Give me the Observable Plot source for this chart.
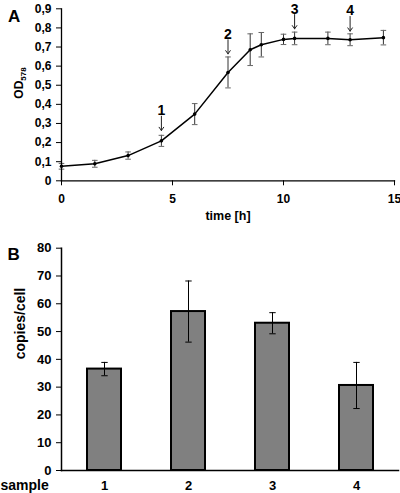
<!DOCTYPE html>
<html><head><meta charset="utf-8">
<script src="https://cdn.jsdelivr.net/npm/d3@7"></script>
<script src="https://cdn.jsdelivr.net/npm/@observablehq/plot@0.6"></script>
<style>
body{margin:0;background:#fff;}
#wrap{position:relative;width:400px;height:493px;}
#a,#b{position:absolute;left:0;}
#a{top:0}#b{top:228px}
</style></head><body>
<div id="wrap"><div id="a"></div><div id="b"></div></div>
<script>
// Panel A: growth curve
const timeH = [0, 1.5, 3, 4.5, 6, 7.5, 8.5, 9, 10, 10.5, 12, 13, 14.5];
const od = [0.076, 0.089, 0.132, 0.209, 0.349, 0.567, 0.686, 0.712, 0.740, 0.745, 0.745, 0.738, 0.749];
const odErr = [0.015, 0.018, 0.019, 0.029, 0.055, 0.081, 0.083, 0.064, 0.027, 0.033, 0.033, 0.031, 0.038];
const xTicksA = [0, 5, 10, 15];
const yTicksA = [0, 0.1, 0.2, 0.3, 0.4, 0.5, 0.6, 0.7, 0.8, 0.9];
// sampling arrows
const sampleLabels = ["1", "2", "3", "4"];
const sampleTimes = [4.5, 7.5, 10.5, 13];
const arrowTop = [0.338, 0.738, 0.870, 0.860];
const arrowBottom = [0.263, 0.664, 0.795, 0.783];

// Panel B: copies per cell
const samples = ["1", "2", "3", "4"];
const copies = [36.5, 57.2, 53.0, 30.6];
const copiesErr = [2.4, 11.0, 3.8, 8.3];
const yTicksB = [0, 10, 20, 30, 40, 50, 60, 70, 80];

const font = "'Liberation Sans', Arial, sans-serif";
const fmt = d => d === 0 ? "0" : d.toFixed(1).replace(".", ",");
// horizontal-line symbol for error-bar caps (half width = r)
const capSymbol = {draw(ctx, size) { const w = Math.sqrt(size / Math.PI); ctx.moveTo(-w, 0); ctx.lineTo(w, 0); }};

const growth = timeH.map((t, i) => ({t, od: od[i], err: odErr[i]}));
const arrows = sampleTimes.map((t, i) => ({t, label: sampleLabels[i], top: arrowTop[i], bottom: arrowBottom[i]}));

const chartA = Plot.plot({
  width: 400, height: 228,
  marginTop: 8.3, marginBottom: 47.7, marginLeft: 61, marginRight: 6,
  style: {fontFamily: font, fontSize: "12px", fontWeight: "bold", color: "black", background: "white", overflow: "visible"},
  x: {domain: [0, 15]},
  y: {domain: [0, 0.9]},
  marks: [
    Plot.ruleX(growth, {x: "t", y1: d => d.od - d.err, y2: d => d.od + d.err, stroke: "#333", strokeWidth: 1}),
    Plot.dot(growth, {x: "t", y: d => d.od + d.err, symbol: capSymbol, r: 2.8, stroke: "#666", fill: "none", strokeWidth: 1}),
    Plot.dot(growth, {x: "t", y: d => d.od - d.err, symbol: capSymbol, r: 2.8, stroke: "#666", fill: "none", strokeWidth: 1}),
    Plot.line(growth, {x: "t", y: "od", stroke: "black", strokeWidth: 1.5}),
    Plot.dot(growth, {x: "t", y: "od", r: 1.8, fill: "black"}),
    Plot.arrow(arrows, {x1: "t", x2: "t", y1: "top", y2: "bottom", headLength: 6, headAngle: 70, stroke: "#222", strokeWidth: 1}),
    Plot.text(arrows, {x: "t", y: "top", text: "label", lineAnchor: "bottom", dy: -1, fontSize: 14, fontWeight: "bold"}),
    Plot.axisX({ticks: xTicksA, tickSize: 5, tickPadding: 9, tickFormat: d => String(d), label: null, fontSize: 12, fontWeight: "bold"}),
    Plot.axisY({ticks: yTicksA, tickSize: 5, tickPadding: 5, tickFormat: fmt, label: null, fontSize: 12, fontWeight: "bold"}),
    Plot.frame({anchor: "bottom", strokeWidth: 1.3}),
    Plot.frame({anchor: "left", strokeWidth: 1.3}),
    Plot.text(["time [h]"], {frameAnchor: "bottom", dy: 30, lineAnchor: "top", text: d => d, fontSize: 12.5, fontWeight: "bold"}),
    Plot.text(["A"], {frameAnchor: "top-left", dx: -53.5, dy: 1.5, text: d => d, fontSize: 17, fontWeight: "bold"})
  ]
});
{
  const t = d3.select(chartA).append("text")
    .attr("transform", "translate(19,83) rotate(-90)")
    .attr("text-anchor", "middle")
    .attr("dy", "0.35em")
    .attr("font-size", 12)
    .attr("font-weight", "bold")
    .attr("fill", "black");
  t.append("tspan").text("OD");
  t.append("tspan").attr("font-size", 8).attr("dy", "0.35em").text("578");
}
document.getElementById("a").append(chartA);

const bars = samples.map((s, i) => ({s, v: copies[i], e: copiesErr[i]}));
const chartB = Plot.plot({
  width: 400, height: 265,
  marginTop: 19.7, marginBottom: 23, marginLeft: 61, marginRight: 2,
  style: {fontFamily: font, fontSize: "13px", fontWeight: "bold", color: "black", background: "white", overflow: "visible"},
  x: {domain: samples, paddingInner: 0.6, paddingOuter: 0.3},
  y: {domain: [0, 80]},
  marks: [
    Plot.barY(bars, {x: "s", y: "v", fill: "#808080", stroke: "black", strokeWidth: 2}),
    Plot.ruleX(bars, {x: "s", y1: d => d.v - d.e, y2: d => d.v + d.e, stroke: "black", strokeWidth: 1}),
    Plot.dot(bars, {x: "s", y: d => d.v + d.e, symbol: capSymbol, r: 3.2, stroke: "black", fill: "none", strokeWidth: 1}),
    Plot.dot(bars, {x: "s", y: d => d.v - d.e, symbol: capSymbol, r: 3.2, stroke: "black", fill: "none", strokeWidth: 1}),
    Plot.axisX({tickSize: 0, tickPadding: 10, label: null, fontSize: 13, fontWeight: "bold"}),
    Plot.axisY({ticks: yTicksB, tickSize: 5, tickPadding: 5, label: null, fontSize: 13, fontWeight: "bold"}),
    Plot.frame({anchor: "bottom", strokeWidth: 1.5}),
    Plot.frame({anchor: "left", strokeWidth: 1.5}),
    Plot.text(["sample"], {frameAnchor: "bottom-left", dx: -61, dy: 10, lineAnchor: "top", textAnchor: "start", text: d => d, fontSize: 14, fontWeight: "bold"}),
    Plot.text(["copies/cell"], {frameAnchor: "left", rotate: -90, dx: -41, text: d => d, fontSize: 14, fontWeight: "bold"}),
    Plot.text(["B"], {frameAnchor: "top-left", dx: -54, dy: 0, text: d => d, fontSize: 17, fontWeight: "bold"})
  ]
});
document.getElementById("b").append(chartB);
</script>
</body></html>
